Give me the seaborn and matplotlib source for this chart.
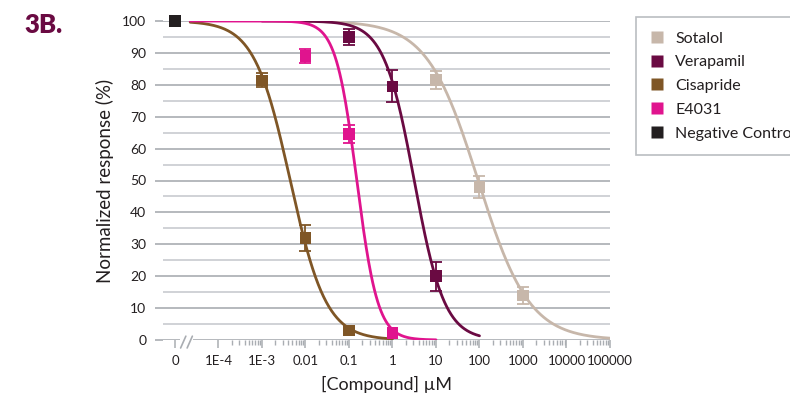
import numpy as np
import pandas as pd
import matplotlib
matplotlib.use("Agg")
import matplotlib.pyplot as plt
import matplotlib.transforms as mtransforms
from matplotlib.lines import Line2D
import seaborn as sns

# ---------------- data ----------------
compounds = ["Sotalol", "Verapamil", "Cisapride", "E4031", "Negative Control"]
colors = ["#c7b7aa", "#6a0a42", "#7f5626", "#e0148e", "#231f20"]

tick_labels = ["0", "1E-4", "1E-3", "0.01", "0.1", "1", "10", "100", "1000", "10000", "100000"]

sotalol_conc = [10, 100, 1000]
sotalol_resp = [81.5, 48.0, 14.0]
sotalol_err = [2.8, 3.5, 2.7]

verapamil_conc = [0.1, 1, 10]
verapamil_resp = [95.0, 79.5, 20.0]
verapamil_err = [2.4, 5.0, 4.5]

cisapride_conc = [0.001, 0.01, 0.1]
cisapride_resp = [81.4, 32.0, 3.0]
cisapride_err = [2.2, 4.2, 0.0]

e4031_conc = [0.01, 0.1, 1]
e4031_resp = [89.0, 64.6, 2.2]
e4031_err = [2.2, 2.9, 0.0]

negative_conc = [0]
negative_resp = [100.0]
negative_err = [0.0]

# fitted dose-response parameters
fit_log_ic50 = [1.97, 0.50, -2.35, -0.82]
fit_hill = [0.74, 1.25, 1.05, 1.8]
fit_log_start = [-2.0, -3.0, -4.65, -4.65]
fit_log_end = [5.0, 2.0, 0.0, 1.0]

ZERO_POS = -5  # position used for concentration 0 on the log axis


def pos(conc):
    c = np.asarray(conc, dtype=float)
    out = np.full(c.shape, float(ZERO_POS))
    nz = c > 0
    out[nz] = np.log10(c[nz])
    return out


points = pd.DataFrame({
    "compound": sum([[n] * 3 for n in compounds[:4]], []) + ["Negative Control"],
    "conc": sotalol_conc + verapamil_conc + cisapride_conc + e4031_conc + negative_conc,
    "resp": sotalol_resp + verapamil_resp + cisapride_resp + e4031_resp + negative_resp,
    "err": sotalol_err + verapamil_err + cisapride_err + e4031_err + negative_err,
})
points["pos"] = pos(points["conc"])

curve_rows = []
for name, c50, h, a, b in zip(compounds[:4], fit_log_ic50, fit_hill, fit_log_start, fit_log_end):
    xs = np.linspace(a, b, 300)
    ys = 100.0 / (1.0 + 10 ** (h * (xs - c50)))
    curve_rows.append(pd.DataFrame({"compound": name, "pos": xs, "resp": ys}))
curves = pd.concat(curve_rows, ignore_index=True)

palette = dict(zip(compounds, colors))

# ---------------- figure ----------------
sns.set_theme(style="white")
plt.rcParams["font.family"] = ["Lato", "DejaVu Sans"]

W, H = 790, 397
fig = plt.figure(figsize=(W / 100, H / 100), dpi=100)
ax = fig.add_axes([163 / W, 1 - 340 / H, (610 - 163) / W, (340 - 21) / H])

grid_major = "#a9adb2"
grid_minor = "#c8cbcf"
for v in range(0, 101, 5):
    ax.axhline(v, color=grid_major if v % 10 == 0 else grid_minor, lw=1.2, zorder=0)

sns.lineplot(data=curves, x="pos", y="resp", hue="compound", palette=palette,
             hue_order=compounds[:4], lw=2.0, legend=False, ax=ax, zorder=3, sort=False)

for name in compounds:
    d = points[points["compound"] == name]
    de = d[d["err"] > 0]
    if len(de):
        ax.errorbar(de["pos"], de["resp"], yerr=de["err"], fmt="none",
                    ecolor=palette[name], elinewidth=1.3, capsize=4, capthick=1.3,
                    zorder=4)
sns.scatterplot(data=points, x="pos", y="resp", hue="compound", palette=palette,
                marker="s", s=70, edgecolor="none", legend=False, ax=ax, zorder=5,
                clip_on=False)
for coll in ax.collections:
    coll.set_clip_on(False)

ax.set_xlim(-5.275, 5.0)
ax.set_ylim(0, 100)

# y axis
ax.set_yticks(range(0, 101, 10))
ax.set_yticklabels([str(v) for v in range(0, 101, 10)])
ax.tick_params(axis="y", length=6, width=1.2, color=grid_major, pad=6,
               labelsize=10, labelcolor="#231f20", left=True)
for s in ["left", "right", "top"]:
    ax.spines[s].set_visible(False)
ax.spines["bottom"].set_visible(False)

# x axis
major_pos = list(range(-5, 6))
ax.set_xticks(major_pos)
ax.set_xticklabels(tick_labels)
minor_pos = [d + np.log10(k) for d in range(-4, 5) for k in range(2, 10)]
ax.set_xticks(minor_pos, minor=True)
ax.tick_params(axis="x", which="major", length=6, width=1.1, color=grid_major,
               labelsize=9.5, labelcolor="#231f20", pad=5, bottom=True)
ax.tick_params(axis="x", which="minor", length=3.5, width=1.0, color=grid_major, bottom=True)

# axis break
trans = mtransforms.blended_transform_factory(ax.transData, ax.transAxes)
ax.add_patch(plt.Rectangle((-4.88, -0.01), 0.3, 0.02, transform=trans,
                           facecolor="white", edgecolor="none", zorder=1.5, clip_on=False))
for x0 in (-4.87, -4.72):
    ax.add_line(Line2D([x0, x0 + 0.12], [-0.025, 0.012], transform=trans,
                       color=grid_major, lw=1.2, clip_on=False, zorder=2))

ax.set_xlabel("[Compound] µM", fontsize=13, color="#231f20", labelpad=6)
ax.set_ylabel("Normalized response (%)", fontsize=13.5, color="#231f20", labelpad=6)

fig.text(24 / W, 1 - 25 / H, "3B.", fontsize=18.5, fontweight="heavy", color="#6a0a42",
         va="center", ha="left")

handles = [Line2D([], [], marker="s", linestyle="none", markersize=8,
                  markerfacecolor=c, markeredgecolor="none") for c in colors]
leg = fig.legend(handles, compounds, loc="upper left",
                 bbox_to_anchor=(636 / W, 1 - 17 / H), frameon=True, fancybox=False,
                 fontsize=11.5, labelspacing=0.6, handlelength=0.8, handletextpad=0.75,
                 borderpad=0.9, borderaxespad=0)
leg.get_frame().set_edgecolor("#a9adb2")
leg.get_frame().set_linewidth(1.2)
for t in leg.get_texts():
    t.set_color("#231f20")

fig.savefig("out.png", dpi=100)
